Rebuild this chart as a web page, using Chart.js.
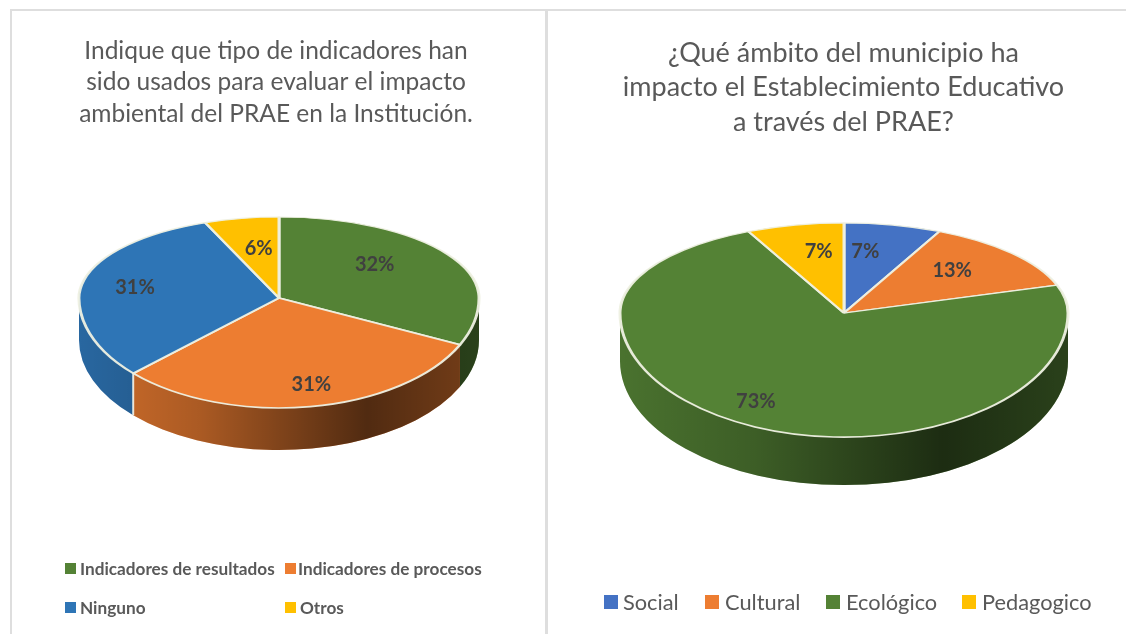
<!DOCTYPE html>
<html lang="es">
<head>
    <meta charset="UTF-8">
    <title>PRAE</title>
    <script src="https://cdn.jsdelivr.net/npm/chart.js@4/dist/chart.umd.min.js"></script>
    <style>
        html, body { margin: 0; background: #fff; overflow: hidden; }
        #page { position: relative; width: 1126px; height: 634px; font-family: Lato, sans-serif; color: #595959; }
        .rule { position: absolute; background: #dedede; }
        canvas { position: absolute; top: 0; }
        .key { position: absolute; white-space: nowrap; }
        .key i { position: absolute; display: block; }
    </style>
</head>
<body>
<div id="page">
    <div class="rule" style="left:10px;top:9px;width:1116px;height:2px"></div>
    <div class="rule" style="left:10px;top:9px;width:2px;height:625px"></div>
    <div class="rule" style="left:545px;top:9px;width:3px;height:625px"></div>
    <canvas id="left" width="552" height="634" style="left:0"></canvas>
    <canvas id="right" width="565" height="634" style="left:561px"></canvas>
</div>
<script>
    const leftTitle = ['Indique que tipo de indicadores han', 'sido usados para evaluar el impacto', 'ambiental del PRAE en la Institución.'];
    const leftLabels = ['Indicadores de resultados', 'Indicadores de procesos', 'Ninguno', 'Otros'];
    const leftValues = [32, 31, 31, 6];
    const leftColors = ['#548235', '#ED7D31', '#2E75B6', '#FFC000'];

    const rightTitle = ['¿Qué ámbito del municipio ha', 'impacto el Establecimiento Educativo', 'a través del PRAE?'];
    const rightLabels = ['Social', 'Cultural', 'Ecológico', 'Pedagogico'];
    const rightValues = [7, 13, 73, 7];
    const rightColors = ['#4472C4', '#ED7D31', '#548235', '#FFC000'];

    // flattens the library's round pie into a tilted disc, front half taller than the back
    const pie3d = {
        id: 'pie3d',
        beforeDatasetsDraw(chart, args, opts) {
            const ctx = chart.ctx;
            const arcs = chart.getDatasetMeta(0).data;
            const R = arcs[0].outerRadius;
            const {x: cx, y: cy} = opts.center;
            const ry = R * opts.lowerScale;
            const shade = ctx.createLinearGradient(cx - R, 0, cx + R, 0);
            shade.addColorStop(0, 'rgba(0,0,0,0.12)');
            shade.addColorStop(0.3, 'rgba(0,0,0,0.28)');
            shade.addColorStop(0.72, 'rgba(0,0,0,0.66)');
            shade.addColorStop(1, 'rgba(0,0,0,0.5)');
            const seam = ctx.createLinearGradient(cx - R, 0, cx + R, 0);
            seam.addColorStop(0, 'rgba(240,240,230,0.95)');
            seam.addColorStop(0.6, 'rgba(240,240,230,0.8)');
            seam.addColorStop(0.8, 'rgba(240,240,230,0)');
            arcs.forEach((arc, i) => {
                const a0 = Math.max(arc.startAngle, 0);
                const a1 = Math.min(arc.endAngle, Math.PI);
                if (a0 >= a1) return;
                ctx.beginPath();
                ctx.ellipse(cx, cy, R, ry, 0, a0, a1);
                ctx.ellipse(cx, cy + opts.depth, R, ry, 0, a1, a0, true);
                ctx.closePath();
                ctx.fillStyle = chart.data.datasets[0].backgroundColor[i];
                ctx.fill();
                ctx.fillStyle = shade;
                ctx.fill();
                if (arc.startAngle > 0) {
                    const sx = cx + R * Math.cos(arc.startAngle);
                    const sy = cy + ry * Math.sin(arc.startAngle);
                    ctx.beginPath();
                    ctx.moveTo(sx, sy);
                    ctx.lineTo(sx, sy + opts.depth);
                    ctx.strokeStyle = seam;
                    ctx.lineWidth = 2;
                    ctx.stroke();
                }
            });
        },
        beforeDatasetDraw(chart, args, opts) {
            const ctx = chart.ctx;
            const arc = args.meta.data[0];
            const {x: cx, y: cy} = opts.center;
            [[0, cy, opts.upperScale], [cy, chart.height - cy, opts.lowerScale]].forEach(([top, h, k]) => {
                ctx.save();
                ctx.beginPath();
                ctx.rect(0, top, chart.width, h);
                ctx.clip();
                ctx.translate(cx, cy);
                ctx.scale(1, k);
                ctx.translate(-arc.x, -arc.y);
                args.meta.controller.draw();
                ctx.restore();
            });
            return false;
        },
        afterDatasetsDraw(chart, args, opts) {
            const ctx = chart.ctx;
            const values = chart.data.datasets[0].data;
            const {x: cx, y: cy} = opts.center;
            ctx.save();
            ctx.font = 'bold 20px Lato';
            ctx.fillStyle = '#404040';
            ctx.textAlign = 'center';
            ctx.textBaseline = 'middle';
            chart.getDatasetMeta(0).data.forEach((arc, i) => {
                const mid = (arc.startAngle + arc.endAngle) / 2;
                const dx = Math.cos(mid) * arc.outerRadius * 0.62;
                const dy = Math.sin(mid) * arc.outerRadius * 0.62;
                const k = dy < 0 ? opts.upperScale : opts.lowerScale;
                const nudge = opts.labelNudges[i];
                ctx.fillText(values[i] + '%', cx + dx + nudge[0], cy + dy * k + nudge[1]);
            });
            ctx.restore();
        }
    };

    function pieChart(id, title, labels, values, colors, radius, titleFont, titleGap, titleTop, look) {
        return new Chart(document.getElementById(id), {
            type: 'pie',
            plugins: [pie3d],
            data: {
                labels: labels,
                datasets: [{
                    data: values,
                    backgroundColor: colors,
                    borderColor: 'rgba(238,240,226,0.95)',
                    borderWidth: 3,
                    radius: radius
                }]
            },
            options: {
                responsive: false,
                animation: false,
                plugins: {
                    legend: {display: false},
                    tooltip: {enabled: false},
                    title: {
                        display: true,
                        text: title,
                        color: '#595959',
                        font: {family: 'Lato', size: titleFont, weight: 'normal', lineHeight: titleGap / titleFont},
                        padding: {top: titleTop, bottom: 10}
                    },
                    pie3d: look
                }
            }
        });
    }

    const leftChart = pieChart('left', leftTitle, leftLabels, leftValues, leftColors, 200, 24.5, 31.5, 35, {
        center: {x: 279, y: 298},
        upperScale: 0.405,
        lowerScale: 0.55,
        depth: 42,
        labelNudges: [[-9, -7], [13, 19], [-23, 1], [3, 0]]
    });
    const rightChart = pieChart('right', rightTitle, rightLabels, rightValues, rightColors, 224, 27, 34.5, 36, {
        center: {x: 283, y: 313},
        upperScale: 0.402,
        lowerScale: 0.554,
        depth: 48,
        labelNudges: [[-9, -6.5], [4, -6], [-33, 18], [5, -6.5]]
    });

    // html legends, the two columns here don't fit the built in legend layout
    function legend(chart, spots, box, font) {
        const page = document.getElementById('page');
        chart.data.labels.forEach((label, i) => {
            const [x, y, textX] = spots[i];
            const key = document.createElement('div');
            key.className = 'key';
            key.style.cssText = `left:${textX}px;top:${y + box / 2 - 15}px;font:${font};line-height:30px`;
            key.textContent = label;
            const mark = document.createElement('i');
            mark.style.cssText = `left:${x - textX}px;top:${15 - box / 2}px;width:${box}px;height:${box}px;background:${chart.data.datasets[0].backgroundColor[i]}`;
            key.appendChild(mark);
            page.appendChild(key);
        });
    }
    legend(leftChart, [[65, 563, 80], [285, 563, 298], [65, 602, 80], [285, 602, 300]], 11, 'bold 17.2px Lato');
    legend(rightChart, [[604, 595, 623], [705, 595, 725], [826, 595, 846], [962, 595, 982]], 14, '21.8px Lato');
</script>
</body>
</html>
